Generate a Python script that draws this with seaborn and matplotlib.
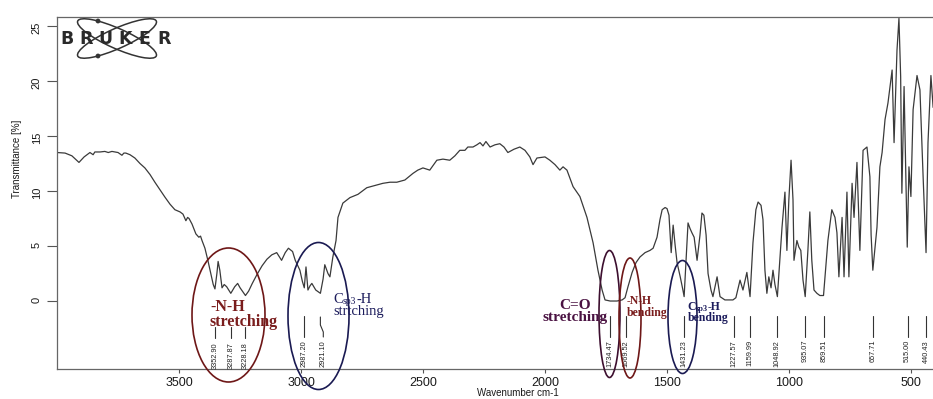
import numpy as np
import pandas as pd
import seaborn as sns
import matplotlib.pyplot as plt
from matplotlib.patches import Ellipse, Circle
from matplotlib.transforms import Affine2D, blended_transform_factory

# ---------------- data ----------------
wavenumber = [4000, 3967, 3939, 3910, 3889, 3865, 3852, 3845, 3824, 3804, 3790, 3775, 3750,
              3734, 3726, 3718, 3701, 3681, 3660, 3640, 3619, 3599, 3578, 3558, 3537, 3517,
              3496, 3484, 3472, 3465, 3459, 3447, 3431, 3419, 3412, 3406, 3394, 3382, 3370,
              3360, 3353, 3345, 3340, 3333, 3324, 3315, 3305, 3288, 3272, 3260, 3250, 3228,
              3215, 3200, 3181, 3160, 3140, 3120, 3100, 3080, 3065, 3052, 3035, 3024, 3005,
              2995, 2987, 2980, 2972, 2963, 2956, 2940, 2921, 2910, 2903, 2890, 2882, 2870,
              2857, 2849, 2829, 2800, 2767, 2731, 2698, 2665, 2636, 2608, 2575, 2542, 2522,
              2501, 2473, 2444, 2419, 2391, 2370, 2350, 2329, 2317, 2296, 2280, 2267, 2255,
              2243, 2226, 2206, 2186, 2169, 2153, 2128, 2104, 2083, 2063, 2050, 2034, 2001,
              1981, 1960, 1940, 1927, 1911, 1886, 1858, 1829, 1804, 1784, 1767, 1755, 1734,
              1706, 1685, 1673, 1661, 1644, 1628, 1612, 1591, 1571, 1558, 1542, 1530, 1521,
              1509, 1501, 1493, 1484, 1476, 1468, 1460, 1447, 1436, 1431, 1423, 1415, 1407,
              1399, 1390, 1378, 1366, 1358, 1350, 1341, 1333, 1321, 1313, 1296, 1284, 1264,
              1231, 1219, 1202, 1190, 1174, 1161, 1149, 1137, 1128, 1116, 1108, 1100, 1092,
              1084, 1075, 1067, 1059, 1049, 1039, 1030, 1018, 1010, 1002, 993, 985, 981,
              969, 961, 953, 944, 935, 924, 916, 908, 899, 887, 875, 860, 854,
              842, 826, 813, 805, 797, 784, 776, 764, 756, 743, 735, 723, 711,
              698, 682, 670, 665, 658, 652, 641, 629, 620, 608, 596, 579, 571,
              559, 551, 544, 539, 530, 517, 510, 502, 493, 477, 465, 452, 440,
              432, 420, 411]
transmittance = [13.5, 13.45, 13.2, 12.6, 13.1, 13.5, 13.3, 13.55, 13.55, 13.6, 13.5, 13.6, 13.5,
                 13.25, 13.45, 13.45, 13.3, 13.0, 12.5, 12.1, 11.5, 10.8, 10.1, 9.45, 8.8, 8.3,
                 8.1, 7.9, 7.3, 7.6, 7.5, 7.0, 6.1, 5.8, 5.9, 5.5, 4.8, 3.7, 2.5,
                 1.5, 1.1, 2.5, 3.6, 2.8, 1.2, 1.5, 1.3, 0.7, 1.3, 1.6, 1.2, 0.5,
                 0.9, 1.6, 2.4, 3.2, 3.8, 4.2, 4.4, 3.7, 4.4, 4.8, 4.5, 3.7, 2.8,
                 1.8, 1.2, 3.1, 1.0, 1.4, 1.6, 1.0, 0.7, 2.0, 3.3, 2.5, 2.2, 4.0,
                 5.5, 7.6, 8.9, 9.4, 9.7, 10.3, 10.5, 10.7, 10.8, 10.8, 11.0, 11.6, 11.9,
                 12.1, 11.9, 12.8, 12.9, 12.8, 13.2, 13.7, 13.7, 14.0, 14.0, 14.2, 14.4, 14.1,
                 14.5, 14.0, 14.2, 14.3, 14.0, 13.5, 13.8, 14.0, 13.7, 13.1, 12.4, 13.0, 13.1,
                 12.8, 12.4, 11.9, 12.2, 11.9, 10.4, 9.5, 7.6, 5.3, 2.8, 1.0, 0.1, 0.0,
                 0.0, 0.1, 0.3, 1.3, 2.6, 3.5, 4.0, 4.4, 4.6, 4.8, 5.8, 7.4, 8.3,
                 8.5, 8.4, 7.8, 4.4, 6.9, 5.1, 3.5, 2.2, 1.0, 0.4, 3.7, 7.1, 6.6,
                 6.2, 5.8, 3.7, 6.0, 8.0, 7.8, 6.0, 2.5, 1.0, 0.4, 2.2, 0.4, 0.1,
                 0.1, 0.3, 1.9, 1.0, 2.6, 0.4, 5.3, 8.3, 9.0, 8.7, 7.4, 2.8, 0.7,
                 2.2, 1.2, 2.8, 1.5, 0.4, 3.7, 6.7, 9.9, 4.6, 9.2, 12.8, 9.2, 3.7,
                 5.5, 4.9, 4.6, 1.9, 0.4, 4.6, 8.1, 3.7, 1.0, 0.7, 0.5, 0.5, 2.2,
                 5.5, 8.3, 7.6, 6.2, 2.2, 7.6, 2.2, 9.9, 2.2, 10.7, 7.6, 12.6, 4.6,
                 13.7, 14.0, 11.3, 6.0, 2.8, 4.2, 6.7, 12.2, 13.5, 16.5, 18.0, 21.0, 14.4,
                 22.8, 25.7, 20.4, 9.8, 19.5, 4.9, 12.2, 9.5, 17.4, 20.5, 19.2, 11.3, 4.4,
                 14.4, 20.5, 17.6]
peak_labels = [3352.90, 3287.87, 3228.18, 2987.20, 2921.10, 1734.47, 1669.52, 1431.23,
               1227.57, 1159.99, 1048.92, 935.07, 859.51, 657.71, 515.00, 440.43]
x_ticks = [3500, 3000, 2500, 2000, 1500, 1000, 500]
y_ticks = [0, 5, 10, 15, 20, 25]

# ---------------- style ----------------
sns.set_theme(style="ticks")
plt.rcParams['font.family'] = ['Liberation Sans', 'DejaVu Sans']

W, H, DPI = 933, 399, 100
fig = plt.figure(figsize=(W / DPI, H / DPI), dpi=DPI)
fig.patch.set_facecolor('white')
# pixel transform (origin top-left of the image)
pxT = Affine2D().scale(1 / DPI, -1 / DPI).translate(0, H / DPI) + fig.dpi_scale_trans

ax = fig.add_axes([57 / W, 30 / H, 876 / W, 352 / H])
ax.set_facecolor('white')

df = pd.DataFrame({'Wavenumber': wavenumber, 'Transmittance': transmittance})
sns.lineplot(data=df, x='Wavenumber', y='Transmittance', sort=False, estimator=None,
             color='#3a3a3a', lw=0.9, ax=ax)

ax.set_xlim(4000, 411.5)
ax.set_ylim(-6.18, 25.82)
ax.set_xticks(x_ticks)
ax.set_yticks(y_ticks)
ax.tick_params(axis='x', direction='out', length=3, width=0.8, pad=3,
               labelsize=9, colors='#555555', labelcolor='#1a1a1a')
ax.tick_params(axis='y', direction='out', length=7, width=0.8, pad=4,
               labelsize=8, labelrotation=90, colors='#555555', labelcolor='#1a1a1a')
for s in ['left', 'bottom', 'top']:
    ax.spines[s].set_color('#666666')
    ax.spines[s].set_linewidth(0.9)
ax.spines['right'].set_visible(False)

ax.set_xlabel('Wavenumber cm-1', fontsize=7, color='#1a1a1a')
ax.xaxis.set_label_coords(0.526, -0.054)
ax.set_ylabel('Transmittance [%]', fontsize=7, color='#1a1a1a')
ax.yaxis.set_label_coords(-0.040, 0.597)

# ---------------- peak markers ----------------
blend = blended_transform_factory(ax.transData, pxT)
peak_font = ['Liberation Sans Narrow', 'Liberation Sans', 'DejaVu Sans']
for i, p in enumerate(peak_labels):
    if i < 3:
        ax.plot([p, p], [327, 338], transform=blend, color='#333333', lw=0.8, clip_on=False)
        ax.text(p, 342, f"{p:.2f}", rotation=90, ha='center', va='top', transform=blend,
                fontsize=5.3, family=peak_font, color='#222222', clip_on=False)
    elif p == 2921.10:
        ax.plot([p, p, p - 12, p - 12], [317, 325, 332, 337], transform=blend,
                color='#333333', lw=0.8, clip_on=False)
        ax.text(p - 12, 340, f"{p:.2f}", rotation=90, ha='center', va='top', transform=blend,
                fontsize=5.3, family=peak_font, color='#222222', clip_on=False)
    else:
        ax.plot([p, p], [316, 337], transform=blend, color='#333333', lw=0.8, clip_on=False)
        ax.text(p, 340, f"{p:.2f}", rotation=90, ha='center', va='top', transform=blend,
                fontsize=5.3, family=peak_font, color='#222222', clip_on=False)

# ---------------- annotations (ellipses + labels) ----------------
RED = '#7a1d1d'
NAVY = '#1c1c5c'
PURPLE = '#4a1242'
serif = ['Liberation Serif', 'DejaVu Serif']

ellipses = [((228.5, 315), 73, 134, '#6e1717'),
            ((318.5, 316), 61, 147, '#1a1a52'),
            ((609.5, 314), 21, 127, '#3d0f2f'),
            ((630.0, 318), 22, 120, '#6e1717'),
            ((682.5, 317), 29, 113, '#1a1a52')]
for c, w, h, col in ellipses:
    fig.add_artist(Ellipse(c, w, h, transform=pxT, fill=False, ec=col, lw=1.2, zorder=5))

def chain(parts, x, y, color, weight):
    """Write successive text pieces on one baseline (pixel coords)."""
    t = fig.text(x, y, parts[0][0], transform=pxT, fontsize=parts[0][1], color=color,
                 family=serif, weight=weight, ha='left', va='baseline', zorder=6)
    for s, fs in parts[1:]:
        t = ax.annotate(s, xy=(1, 0), xycoords=t, fontsize=fs, color=color, family=serif,
                        weight=weight, ha='left', va='bottom', annotation_clip=False, zorder=6)
    return t

fig.text(210, 311, '-N-H', transform=pxT, fontsize=11.5, weight='bold', color=RED,
         family=serif, ha='left', va='baseline', zorder=6)
fig.text(210, 326, 'stretching', transform=pxT, fontsize=11.5, weight='bold', color=RED,
         family=serif, ha='left', va='baseline', zorder=6)

chain([('C', 10.5), ('sp3', 7), ('-H', 10.5)], 333, 303, NAVY, 'normal')
fig.text(333, 315, 'strtching', transform=pxT, fontsize=10.5, color=NAVY,
         family=serif, ha='left', va='baseline', zorder=6)

fig.text(575, 309, 'C=O', transform=pxT, fontsize=11, weight='bold', color=PURPLE,
         family=serif, ha='center', va='baseline', zorder=6)
fig.text(575, 321, 'stretching', transform=pxT, fontsize=11, weight='bold', color=PURPLE,
         family=serif, ha='center', va='baseline', zorder=6)

fig.text(627, 304, '-N-H', transform=pxT, fontsize=8.5, weight='bold', color=RED,
         family=serif, ha='left', va='baseline', zorder=6)
fig.text(627, 316, 'bending', transform=pxT, fontsize=8.5, weight='bold', color=RED,
         family=serif, ha='left', va='baseline', zorder=6)

chain([('C', 8.5), ('sp3', 6), ('-H', 8.5)], 687, 310, NAVY, 'bold')
fig.text(688, 321, 'bending', transform=pxT, fontsize=8.5, weight='bold', color=NAVY,
         family=serif, ha='left', va='baseline', zorder=6)

# ---------------- BRUKER logo ----------------
for ang in (24, -24):
    fig.add_artist(Ellipse((117, 38.5), 86, 20, angle=ang, transform=pxT, fill=False,
                           ec='#333333', lw=1.1, zorder=4))
for cy in (21, 56):
    fig.add_artist(Circle((98, cy), 2.4, transform=pxT, fc='#333333', ec='none', zorder=4))
for i, ch in enumerate('BRUKER'):
    fig.text(66.75 + 19.5 * i, 44, ch, transform=pxT, fontsize=12.5, weight='heavy',
             family=['DejaVu Sans'], color='#2a2a2a', ha='center', va='baseline', zorder=5)

fig.savefig('out.png', dpi=DPI, facecolor='white')
